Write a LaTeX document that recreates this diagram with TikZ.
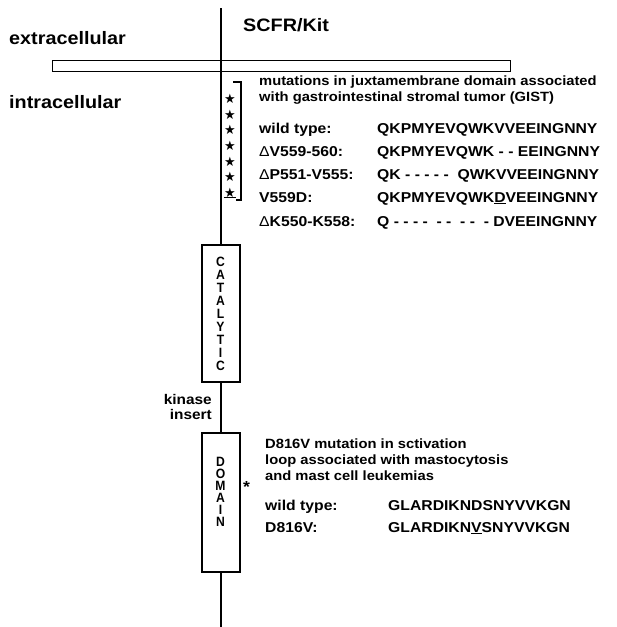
\documentclass[tikz,border=0pt]{standalone}
\usepackage{fontspec}
\setmainfont[FakeStretch=1.1]{Liberation Sans}
\newfontfamily\boxfont[FakeStretch=0.9]{Liberation Sans}
\newfontfamily\symfont{DejaVu Sans}
\usetikzlibrary{positioning}
\tikzset{
  big/.style   = {font=\fontsize{18}{20}\selectfont\bfseries, inner sep=0pt,
                  anchor=base west},
  note/.style  = {font=\fontsize{13.4}{15.8}\selectfont\bfseries, inner sep=0pt,
                  align=left, anchor=base west},
  seq/.style   = {font=\fontsize{14.3}{16}\selectfont\bfseries, inner sep=0pt,
                  anchor=base west},
  dbox/.style  = {rectangle, draw, line width=2pt, minimum width=38pt,
                  inner sep=0pt},
  lett/.style  = {font=\boxfont\fontsize{13.5}{#1}\selectfont\bfseries,
                  align=center, inner sep=0pt},
  memb/.style  = {rectangle, draw, line width=0.9pt, minimum width=458pt,
                  minimum height=11pt, inner sep=0pt},
  chain/.style = {line width=2pt},
  starmk/.style= {font=\symfont\fontsize{13}{10}\selectfont, inner sep=0pt},
}

\begin{document}
\begin{tikzpicture}[x=1pt, y=-1pt]
  \useasboundingbox (0,0) rectangle (617,627);

  % membrane and labels
  \node[memb] (mem) at (281,65.5) {};
  \node[big] (scfr)  at (243,31)  {SCFR/Kit};
  \node[big] (extra) at (9,44)    {extracellular};
  \node[big] (intra) at (9,108)   {intracellular};

  % receptor chain
  \coordinate (top) at (220.5,8);
  \coordinate (bot) at (220.5,627);
  \node[dbox, minimum height=137pt] (cat) at (220.5,313.5) {};
  \node[dbox, minimum height=139pt] (dom) at (220.5,502.5) {};
  \node[lett=13] (catl) at (cat.center) {C\\A\\T\\A\\L\\Y\\T\\I\\C};
  \node[lett=12] (doml) at (220.5,492) {D\\O\\M\\A\\I\\N};
  \draw[chain] (top) -- (cat.north);
  \draw[chain] (cat.south) -- (dom.north);
  \draw[chain] (dom.south) -- (bot);

  \node[note, font=\fontsize{14}{15}\selectfont\bfseries, align=right,
        anchor=base east] (kins) at (212,419) {kinase\\insert};

  % juxtamembrane mutations
  \draw[chain] (233,82) -| (241,200) -- (236,200);
  \foreach \i in {0,...,6}
    \node[starmk] (st\i) at (230,99+15.6*\i) {★};
  \draw[line width=1pt] (st6.south west) -- (st6.south east);

  \node[note] (jmhead) at (259,101)
    {mutations in juxtamembrane domain associated\\
     with gastrointestinal stromal tumor (GIST)};
  \node[seq] (jm1) at (259,133) {wild type:};
  \node[seq] (jm2) at (259,156) {{\mdseries Δ}V559-560:};
  \node[seq] (jm3) at (259,179) {{\mdseries Δ}P551-V555:};
  \node[seq] (jm4) at (259,202) {V559D:};
  \node[seq] (jm5) at (259,226) {{\mdseries Δ}K550-K558:};
  \node[seq] (sq1) at (377,133) {QKPMYEVQWKVVEEINGNNY};
  \node[seq] (sq2) at (377,156) {QKPMYEVQWK - - EEINGNNY};
  \node[seq] (sq3) at (377,179) {QK - - - - -\ \ QWKVVEEINGNNY};
  \node[seq] (sq4) at (377,202) {QKPMYEVQWK\underline{D}VEEINGNNY};
  \node[seq] (sq5) at (377,226) {Q - - - -\ \ - -\ \ - -\ \ - DVEEINGNNY};

  % activation loop mutation
  \node[big, font=\fontsize{16}{16}\selectfont\bfseries] (ast) at (243,492) {*};
  \node[note] (alhead) at (265,480)
    {D816V mutation in sctivation\\
     loop associated with mastocytosis\\
     and mast cell leukemias};
  \node[seq] (al1) at (265,510) {wild type:};
  \node[seq] (al2) at (265,532) {D816V:};
  \node[seq] (sq6) at (388,510) {GLARDIKNDSNYVVKGN};
  \node[seq] (sq7) at (388,532) {GLARDIKN\underline{V}SNYVVKGN};

\end{tikzpicture}
\end{document}
